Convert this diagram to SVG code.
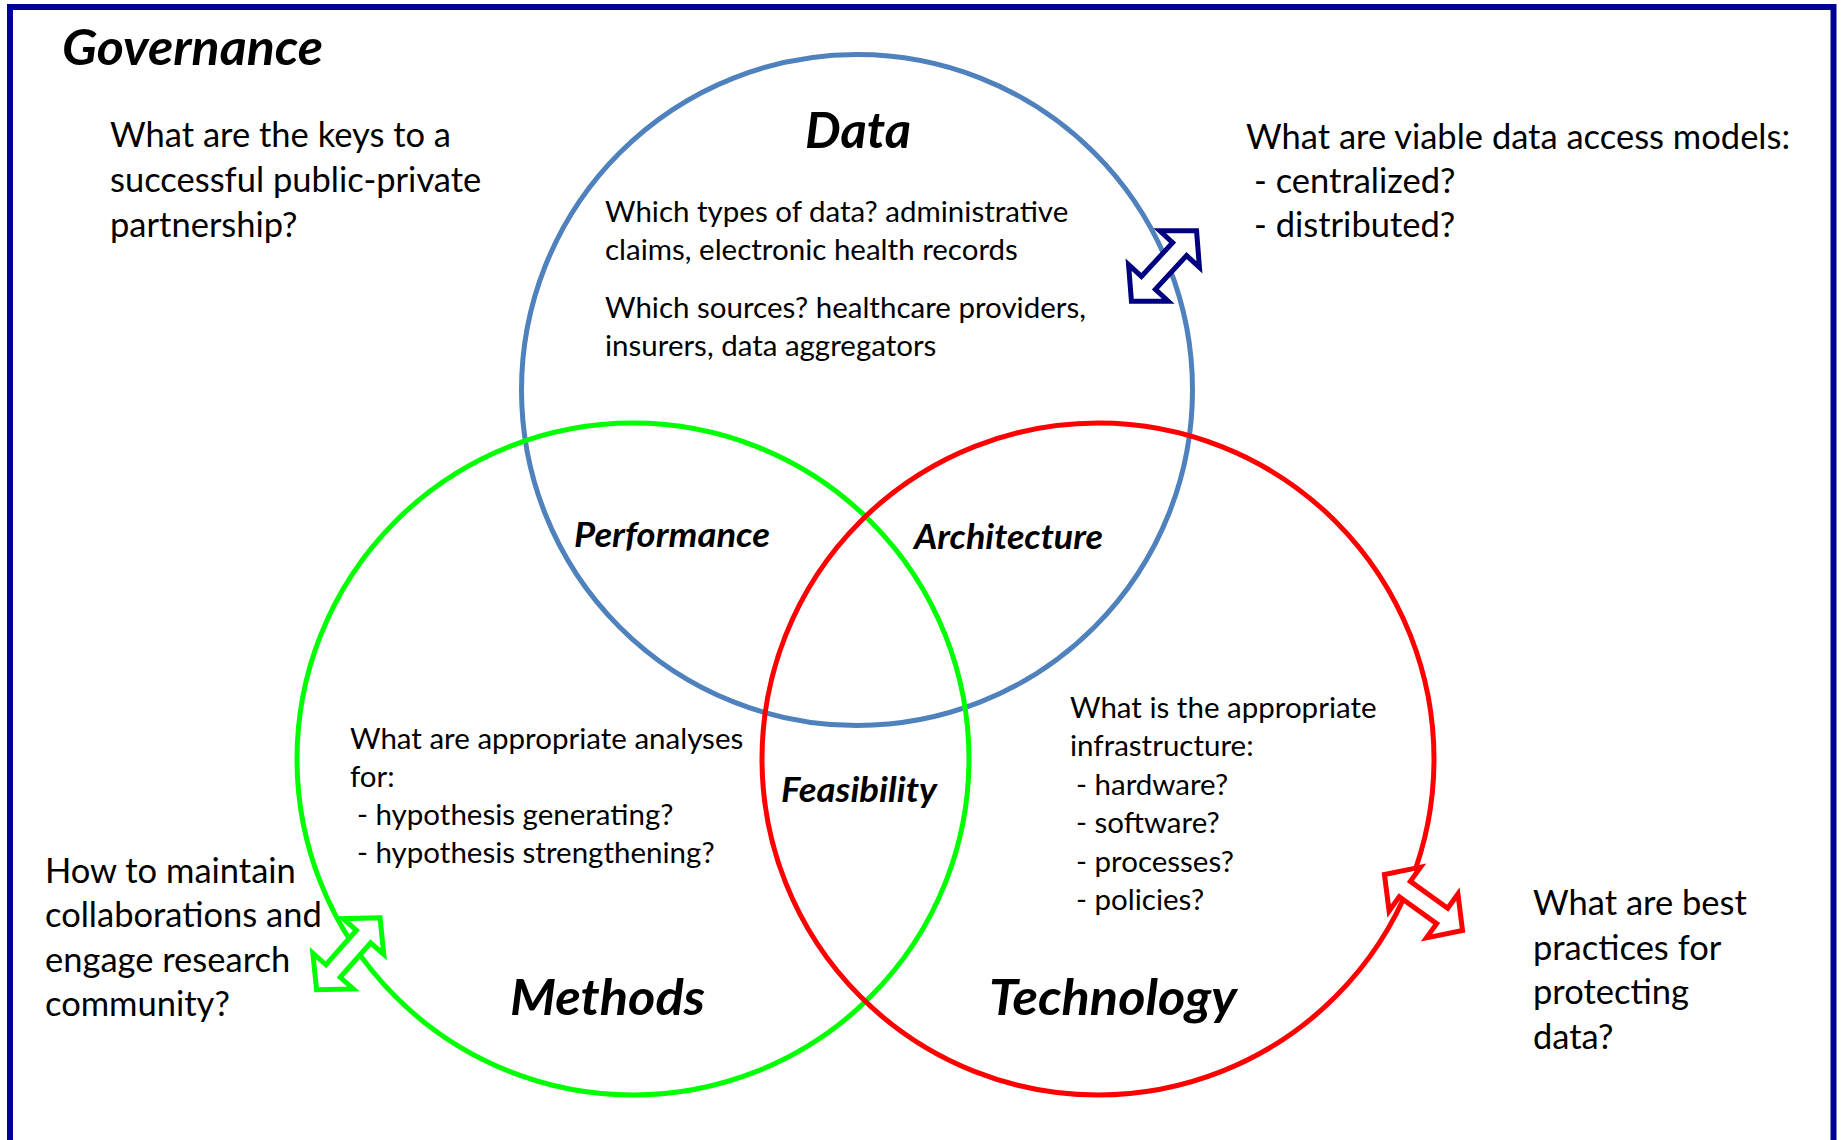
<svg xmlns="http://www.w3.org/2000/svg" width="1843" height="1140" viewBox="0 0 1843 1140">
<style>
  .t { font-family: Lato, "Liberation Sans", sans-serif; fill: #000; }
  .outer { font-size: 34.5px; }
  .inner { font-size: 29.5px; }
  .big { font-size: 50px; font-weight: bold; font-style: italic; }
  .mid { font-size: 35px; font-weight: bold; font-style: italic; }
  .ring { fill: none; stroke-width: 5; }
  .arrow { fill: #fff; stroke-width: 5; stroke-linejoin: miter; stroke-miterlimit: 10; }
</style>
<defs>
  <path id="dblarrow" d="M48,0 L23,-27 L23,-9.5 L-23,-9.5 L-23,-27 L-48,0 L-23,27 L-23,9.5 L23,9.5 L23,27 Z"/>
</defs>
<rect width="1843" height="1140" fill="#fff"/>
<rect id="frame" x="10" y="7" width="1823.5" height="1160" fill="none" stroke="#000096" stroke-width="6"/>

<g id="governance">
  <text class="t big" x="62" y="65" textLength="261" lengthAdjust="spacingAndGlyphs">Governance</text>
</g>

<g id="data">
  <circle class="ring" cx="857" cy="390" r="335.5" stroke="#4F81BD"/>
  <text class="t big" x="858" y="148" text-anchor="middle" textLength="106" lengthAdjust="spacingAndGlyphs">Data</text>
  <text class="t inner" x="605" y="222">Which types of data? administrative</text>
  <text class="t inner" x="605" y="260">claims, electronic health records</text>
  <text class="t inner" x="605" y="318">Which sources? healthcare providers,</text>
  <text class="t inner" x="605" y="356">insurers, data aggregators</text>
</g>

<g id="methods">
  <circle class="ring" cx="633" cy="759" r="336" stroke="#00FF00"/>
  <text class="t big" x="510" y="1015" textLength="195" lengthAdjust="spacingAndGlyphs">Methods</text>
  <text class="t inner" x="350" y="749">What are appropriate analyses</text>
  <text class="t inner" x="350" y="787">for:</text>
  <text class="t inner" x="357" y="825">- hypothesis generating?</text>
  <text class="t inner" x="357" y="863">- hypothesis strengthening?</text>
</g>

<g id="technology">
  <circle class="ring" cx="1098" cy="759" r="336" stroke="#FF0000"/>
  <text class="t big" x="989" y="1015" textLength="248" lengthAdjust="spacingAndGlyphs">Technology</text>
  <text class="t inner" x="1070" y="718">What is the appropriate</text>
  <text class="t inner" x="1070" y="756">infrastructure:</text>
  <text class="t inner" x="1076" y="795">- hardware?</text>
  <text class="t inner" x="1076" y="833">- software?</text>
  <text class="t inner" x="1076" y="872">- processes?</text>
  <text class="t inner" x="1076" y="910">- policies?</text>
</g>

<g id="performance">
  <text class="t mid" x="574" y="547" textLength="196" lengthAdjust="spacingAndGlyphs">Performance</text>
</g>
<g id="architecture">
  <text class="t mid" x="914" y="549" textLength="189" lengthAdjust="spacingAndGlyphs">Architecture</text>
</g>
<g id="feasibility">
  <text class="t mid" x="781" y="802" textLength="156" lengthAdjust="spacingAndGlyphs">Feasibility</text>
</g>

<g id="q-partnership">
  <text class="t outer" x="110" y="147">What are the keys to a</text>
  <text class="t outer" x="110" y="192">successful public-private</text>
  <text class="t outer" x="110" y="237">partnership?</text>
</g>

<g id="q-access">
  <text class="t outer" x="1246" y="149">What are viable data access models:</text>
  <text class="t outer" x="1254" y="193">- centralized?</text>
  <text class="t outer" x="1254" y="237">- distributed?</text>
</g>

<g id="q-collaboration">
  <text class="t outer" x="45" y="883">How to maintain</text>
  <text class="t outer" x="45" y="927">collaborations and</text>
  <text class="t outer" x="45" y="972">engage research</text>
  <text class="t outer" x="45" y="1016">community?</text>
</g>

<g id="q-protect">
  <text class="t outer" x="1533" y="915">What are best</text>
  <text class="t outer" x="1533" y="960">practices for</text>
  <text class="t outer" x="1533" y="1004">protecting</text>
  <text class="t outer" x="1533" y="1049">data?</text>
</g>

<g id="connectors">
  <use href="#dblarrow" class="arrow" stroke="#000080" transform="translate(1164,266) rotate(-47.3)"/>
  <use href="#dblarrow" class="arrow" stroke="#FF0000" transform="translate(1423.5,902.5) rotate(35.6)"/>
  <use href="#dblarrow" class="arrow" stroke="#00FF00" transform="translate(348.3,953.8) rotate(-48.6)"/>
</g>
</svg>
